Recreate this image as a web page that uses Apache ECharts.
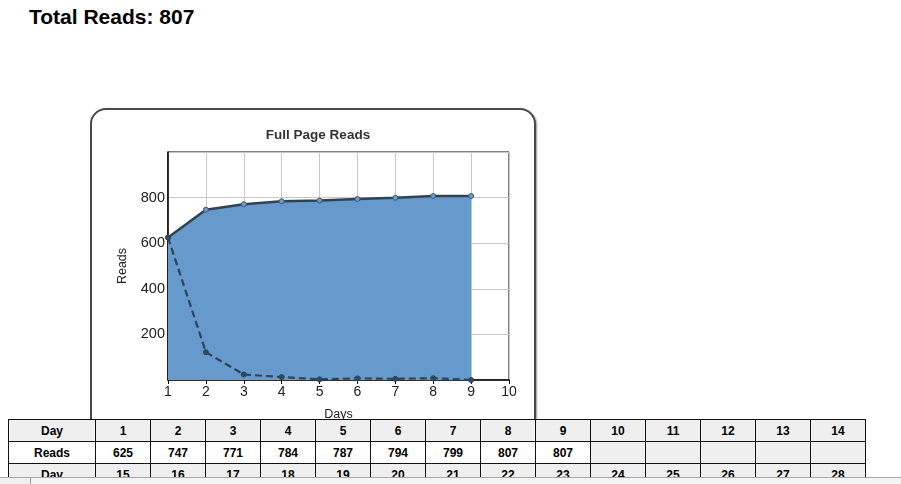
<!DOCTYPE html>
<html>
<head>
<meta charset="utf-8">
<script src="https://cdn.jsdelivr.net/npm/echarts@6/dist/echarts.min.js"></script>
<style>
  html, body { margin: 0; padding: 0; width: 901px; height: 484px; overflow: hidden; background: #fff; font-family: "Liberation Sans", Arial, sans-serif; }
  #title { position: absolute; left: 29px; top: 5px; font-size: 21px; font-weight: bold; color: #000; margin: 0; white-space: nowrap; }
  #box { position: absolute; left: 90px; top: 108px; width: 442px; height: 340px; border: 2px solid #4a4a4a; border-radius: 16px; box-shadow: 1px 1px 2px #999; background: #fff; }
  #chart { position: absolute; left: 0; top: 0; width: 901px; height: 484px; }
  table { position: absolute; left: 8px; top: 419px; border-collapse: collapse; table-layout: fixed; z-index: 5; background: #fff; }
  td { border: 1px solid #111; height: 21px; padding: 0; text-align: center; font-weight: bold; font-size: 12px; color: #000; background: #efefef; }
  td.w { background: #fff; }
  #scroll { position: absolute; left: 0; top: 477px; width: 901px; height: 7px; background: #f0f0f0; border-top: 1px solid #a8a8a8; z-index: 10; }
  #scroll div { position: absolute; left: 30px; top: 0; width: 871px; height: 7px; border-left: 1px solid #999; background: #f4f4f4; }
</style>
</head>
<body>
<div id="title">Total Reads: 807</div>
<div id="box"></div>
<div id="chart"></div>
<table id="tbl"></table>
<div id="scroll"><div></div></div>
<script>
// Data
const days = [1, 2, 3, 4, 5, 6, 7, 8, 9];
const totalReads = [625, 747, 771, 784, 787, 794, 799, 807, 807];
const dailyReads = [625, 122, 24, 13, 3, 7, 5, 8, 0];
const tableDaysRow1 = [1, 2, 3, 4, 5, 6, 7, 8, 9, 10, 11, 12, 13, 14];
const tableDaysRow2 = [15, 16, 17, 18, 19, 20, 21, 22, 23, 24, 25, 26, 27, 28];
const yTicks = [200, 400, 600, 800];

// Table
const tbl = document.getElementById('tbl');
const colgroup = document.createElement('colgroup');
const c0 = document.createElement('col'); c0.style.width = '87px'; colgroup.appendChild(c0);
tableDaysRow1.forEach(() => { const c = document.createElement('col'); c.style.width = '55px'; colgroup.appendChild(c); });
tbl.appendChild(colgroup);
function addRow(label, vals, whiteFn) {
  const tr = document.createElement('tr');
  const th = document.createElement('td'); th.textContent = label;
  if (whiteFn && whiteFn(-1)) th.className = 'w';
  tr.appendChild(th);
  vals.forEach((v, i) => {
    const td = document.createElement('td');
    td.textContent = v === null ? '' : v;
    if (whiteFn && whiteFn(i)) td.className = 'w';
    tr.appendChild(td);
  });
  tbl.appendChild(tr);
}
addRow('Day', tableDaysRow1);
addRow('Reads', tableDaysRow1.map((d, i) => i < totalReads.length ? totalReads[i] : null), i => i < totalReads.length);
addRow('Day', tableDaysRow2);

// Chart
const chart = echarts.init(document.getElementById('chart'), null, { renderer: 'canvas' });
const lineDark = '#2e4356';
chart.setOption({
  animation: false,
  backgroundColor: 'transparent',
  title: {
    text: 'Full Page Reads',
    left: 313, top: 123, textAlign: 'center',
    textStyle: { fontFamily: 'Liberation Sans', fontSize: 13.5, fontWeight: 'bold', color: '#333' }
  },
  grid: {
    left: 168, top: 152, width: 341, height: 228,
    show: true, borderColor: '#000', borderWidth: 1, backgroundColor: 'transparent'
  },
  xAxis: {
    type: 'value', min: 1, max: 10, interval: 1,
    name: 'Days', nameLocation: 'middle', nameGap: 28,
    nameTextStyle: { fontFamily: 'Liberation Sans', fontSize: 12.5, color: '#222' },
    axisLine: { show: true, lineStyle: { color: '#000', width: 1.5 } },
    axisTick: { show: true, length: 4, inside: false, lineStyle: { color: '#000' } },
    axisLabel: { fontFamily: 'Liberation Sans', fontSize: 14, color: '#222', margin: 5 },
    splitLine: { show: true, lineStyle: { color: '#c8c8c8', width: 1 } }
  },
  yAxis: {
    type: 'value', min: 0, max: 1000, interval: 200,
    name: 'Reads', nameLocation: 'middle', nameGap: 39, nameRotate: 90,
    nameTextStyle: { fontFamily: 'Liberation Sans', fontSize: 12.5, color: '#222' },
    axisLine: { show: true, lineStyle: { color: '#000', width: 1.5 } },
    axisTick: { show: false },
    axisLabel: {
      fontFamily: 'Liberation Sans', fontSize: 14.5, color: '#222', margin: 3,
      formatter: v => yTicks.includes(v) ? String(v) : ''
    },
    splitLine: { show: true, lineStyle: { color: '#c8c8c8', width: 1 } }
  },
  series: [
    {
      type: 'line',
      data: days.map((d, i) => [d, totalReads[i]]),
      symbol: 'circle', symbolSize: 5,
      itemStyle: { color: '#6a9acb', borderColor: '#3d5a78', borderWidth: 1 },
      lineStyle: { color: lineDark, width: 2.5 },
      areaStyle: { color: '#6699cc', opacity: 1 },
      z: 2
    },
    {
      type: 'line',
      data: days.map((d, i) => [d, dailyReads[i]]),
      symbol: 'circle', symbolSize: 5,
      itemStyle: { color: '#34495e', borderColor: '#2e4356', borderWidth: 1 },
      lineStyle: { color: lineDark, width: 2.2, type: [7, 4] },
      z: 3
    }
  ]
});
</script>
</body>
</html>
